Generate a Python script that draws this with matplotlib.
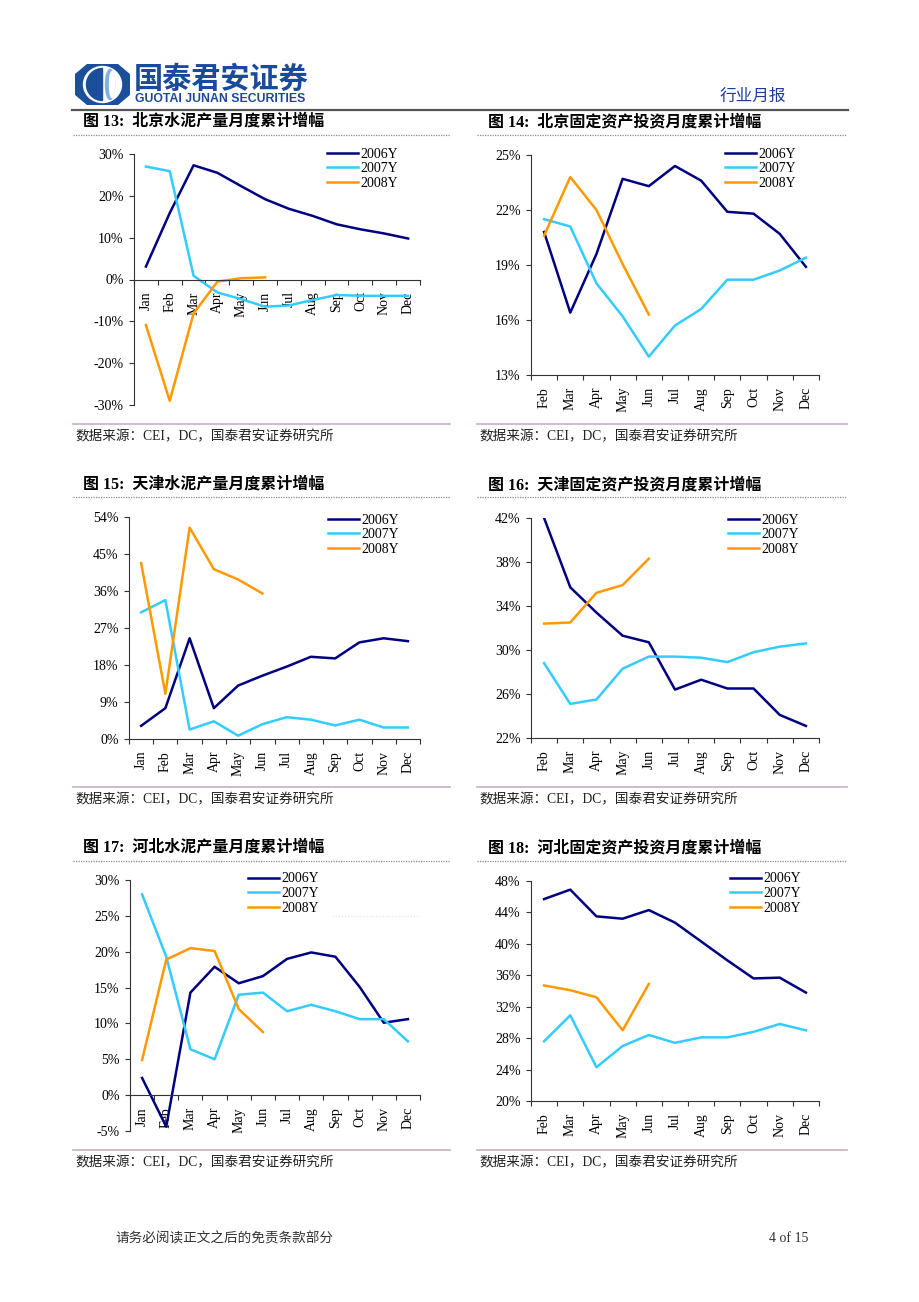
import numpy as np
import matplotlib
matplotlib.use('Agg')
import matplotlib.pyplot as plt
from matplotlib.lines import Line2D
from matplotlib.patches import Polygon, Ellipse, Wedge

W, H = 920, 1302
plt.rcParams['font.family'] = ['Liberation Serif', 'Noto Sans CJK SC']

# ---------------- data ----------------
months_jan = ['Jan', 'Feb', 'Mar', 'Apr', 'May', 'Jun', 'Jul', 'Aug', 'Sep', 'Oct', 'Nov', 'Dec']
months_feb = months_jan[1:]
series_labels = ['2006Y', '2007Y', '2008Y']
series_colors = ['#000080', '#33CCFF', '#FF9900']

bj_cement_2006 = [3.1, 15.9, 27.3, 25.5, 22.3, 19.2, 16.9, 15.2, 13.2, 12.0, 11.0, 9.8]
bj_cement_2007 = [27.0, 25.9, 0.9, -3.1, -4.7, -6.5, -6.2, -4.9, -3.7, -3.9, -3.9, -3.9]
bj_cement_2008 = [-10.9, -29.0, -8.1, -0.5, 0.3, 0.5]

bj_fai_2006 = [20.8, 16.4, 19.6, 23.7, 23.3, 24.4, 23.6, 21.9, 21.8, 20.7, 18.9]
bj_fai_2007 = [21.5, 21.1, 18.0, 16.2, 14.0, 15.7, 16.6, 18.2, 18.2, 18.7, 19.4]
bj_fai_2008 = [20.6, 23.8, 22.0, 19.05, 16.3]

tj_cement_2006 = [3.2, 7.5, 24.5, 7.5, 13.0, 15.4, 17.6, 20.0, 19.6, 23.5, 24.5, 23.8]
tj_cement_2007 = [30.8, 33.8, 2.3, 4.3, 0.8, 3.6, 5.3, 4.7, 3.3, 4.7, 2.8, 2.8]
tj_cement_2008 = [42.8, 11.0, 51.4, 41.3, 38.8, 35.4]

tj_fai_2006 = [42.0, 35.7, 33.4, 31.3, 30.7, 26.4, 27.3, 26.5, 26.5, 24.1, 23.1]
tj_fai_2007 = [28.8, 25.1, 25.5, 28.3, 29.4, 29.4, 29.3, 28.9, 29.8, 30.3, 30.6]
tj_fai_2008 = [32.4, 32.5, 35.2, 35.9, 38.3]

hb_cement_2006 = [2.4, -4.4, 14.3, 17.9, 15.6, 16.6, 19.0, 19.9, 19.3, 15.1, 10.1, 10.6]
hb_cement_2007 = [28.0, 19.3, 6.4, 5.0, 14.0, 14.3, 11.7, 12.6, 11.7, 10.6, 10.6, 7.5]
hb_cement_2008 = [4.9, 18.9, 20.5, 20.1, 12.0, 8.8]

hb_fai_2006 = [45.7, 46.9, 43.5, 43.2, 44.3, 42.7, 40.3, 37.9, 35.6, 35.7, 33.8]
hb_fai_2007 = [27.6, 30.9, 24.3, 27.0, 28.4, 27.4, 28.1, 28.1, 28.8, 29.8, 29.0]
hb_fai_2008 = [34.7, 34.1, 33.2, 29.0, 34.9]

yticks_13 = [-30, -20, -10, 0, 10, 20, 30]
yticks_14 = [13, 16, 19, 22, 25]
yticks_15 = [0, 9, 18, 27, 36, 45, 54]
yticks_16 = [22, 26, 30, 34, 38, 42]
yticks_17 = [-5, 0, 5, 10, 15, 20, 25, 30]
yticks_18 = [20, 24, 28, 32, 36, 40, 44, 48]

titles = ['图 13:  北京水泥产量月度累计增幅', '图 14:  北京固定资产投资月度累计增幅',
          '图 15:  天津水泥产量月度累计增幅', '图 16:  天津固定资产投资月度累计增幅',
          '图 17:  河北水泥产量月度累计增幅', '图 18:  河北固定资产投资月度累计增幅']
source_text = '数据来源：CEI，DC，国泰君安证券研究所'

# ---------------- helpers ----------------
fig = plt.figure(figsize=(9.2, 13.02), dpi=100)
fig.patch.set_facecolor('white')


def fx(x):
    return x / W


def fy(y):
    return 1 - y / H


def add_axes_px(l, t, r, b):
    return fig.add_axes([fx(l), fy(b), (r - l) / W, (b - t) / H])


def hline(x0, x1, y, color, lw, ls='-'):
    fig.add_artist(Line2D([fx(x0), fx(x1)], [fy(y), fy(y)], color=color, lw=lw, ls=ls,
                          transform=fig.transFigure))


def draw_chart(box, cats, series, yticks, legend_xy, zero_axis=False):
    l, t, r, b = box
    ax = add_axes_px(l, t, r, b)
    for s in ['top', 'right']:
        ax.spines[s].set_visible(False)
    for s in ['left', 'bottom']:
        ax.spines[s].set_color('#333333')
        ax.spines[s].set_linewidth(0.8)
    if zero_axis:
        ax.spines['bottom'].set_position(('data', 0))
    x = np.arange(len(cats))
    for vals, lab, col in zip(series, series_labels, series_colors):
        ax.plot(x[:len(vals)], vals, color=col, lw=1.8, label=lab)
    ax.set_xlim(-0.5, len(cats) - 0.5)
    ax.set_ylim(yticks[0], yticks[-1])
    ax.set_yticks(yticks)
    ax.set_yticklabels([f'{v}%' for v in yticks])
    ax.set_xticks(np.arange(-0.5, len(cats)))
    ax.set_xticklabels([])
    ax.set_xticks(x, minor=True)
    ax.set_xticklabels(cats, minor=True, rotation=90)
    ax.tick_params(axis='x', which='minor', length=0, pad=8.5, labelsize=10)
    ax.tick_params(axis='x', which='major', length=3.5, width=0.8, direction='out', color='#333333')
    ax.tick_params(axis='y', length=3.5, width=0.8, pad=4, labelsize=10, color='#333333')
    lx, ly = legend_xy
    ax.legend(loc='upper left', bbox_to_anchor=(fx(lx), fy(ly - 4.5)),
              bbox_transform=fig.transFigure, frameon=False, fontsize=10,
              handlelength=2.2, handletextpad=0.2, labelspacing=0.12,
              borderpad=0, borderaxespad=0)
    ax.patch.set_alpha(0)
    return ax


# ---------------- header ----------------
logo = add_axes_px(75, 64, 130, 105)
logo.set_xlim(0, 55)
logo.set_ylim(41, 0)
logo.axis('off')
logo.add_patch(Polygon([(13, 0), (42, 0), (55, 11), (55, 30), (42, 41), (13, 41), (0, 30), (0, 11)],
                       closed=True, color='#1B4F9C'))
logo.add_patch(Ellipse((27.5, 20.5), 38, 36, color='white'))
logo.add_patch(Wedge((27.5, 20.5), 16, 90, 270, color='#1B4F9C'))
logo.add_patch(Ellipse((35, 20.5), 9, 30, color='#7FB2DE'))
logo.add_patch(Ellipse((37, 20.5), 5, 26, color='white'))

fig.text(fx(134), fy(88), '国泰君安证券', fontsize=21, fontweight='bold', color='#1A4A9B',
         family=['Noto Sans CJK SC'], va='baseline', ha='left')
fig.text(fx(135), fy(99), 'GUOTAI JUNAN SECURITIES', fontsize=8.8, fontweight='bold', color='#1A4A9B',
         family=['Liberation Sans'], va='center', ha='left')
fig.text(fx(720), fy(96), '行业月报', fontsize=12, color='#1F3C99',
         family=['Noto Sans CJK SC'], va='center', ha='left')
hline(72, 848, 110, '#555555', 1.6)

# ---------------- page sections ----------------
row_title_y = [122, 485, 848]
col_x = [(73, 450, 83), (477, 847, 488)]
for i, ty in enumerate(row_title_y):
    for j, (x0, x1, tx) in enumerate(col_x):
        fig.text(fx(tx), fy(ty), titles[i * 2 + j], fontsize=11.5, fontweight='bold',
                 family=['Liberation Serif', 'Noto Sans CJK SC'], va='center', ha='left')
        hline(x0, x1, ty + 12.5, '#8a8a8a', 0.9, (0, (1, 1)))
        sy = ty + 302
        hline(x0, x1, sy, '#C4B0C4', 1.2)
        fig.text(fx(x0 + 2), fy(sy + 13), source_text, fontsize=9.8,
                 family=['Liberation Serif', 'Noto Sans CJK SC'], va='center', ha='left', color='#222222')

# ---------------- charts ----------------
draw_chart((134, 154, 420, 405), months_jan, [bj_cement_2006, bj_cement_2007, bj_cement_2008],
           yticks_13, (327, 152), zero_axis=True)
draw_chart((531, 155, 819, 375), months_feb, [bj_fai_2006, bj_fai_2007, bj_fai_2008],
           yticks_14, (725, 152))
draw_chart((129, 517, 420, 739), months_jan, [tj_cement_2006, tj_cement_2007, tj_cement_2008],
           yticks_15, (328, 518))
draw_chart((531, 518, 819, 738), months_feb, [tj_fai_2006, tj_fai_2007, tj_fai_2008],
           yticks_16, (728, 518))
draw_chart((130, 880, 420, 1131), months_jan, [hb_cement_2006, hb_cement_2007, hb_cement_2008],
           yticks_17, (248, 877), zero_axis=True)
draw_chart((531, 881, 819, 1101), months_feb, [hb_fai_2006, hb_fai_2007, hb_fai_2008],
           yticks_18, (730, 877))

hline(332, 420, 916, '#CFEFF8', 0.9, (0, (1, 1.5)))

# ---------------- footer ----------------
fig.text(fx(115), fy(1238), '请务必阅读正文之后的免责条款部分', fontsize=9.8,
         family=['Noto Sans CJK SC'], va='center', ha='left', color='#333333')
fig.text(fx(808), fy(1238), '4 of 15', fontsize=10, family=['Liberation Serif'],
         va='center', ha='right', color='#333333')

fig.savefig('out.png', dpi=100, facecolor='white')
